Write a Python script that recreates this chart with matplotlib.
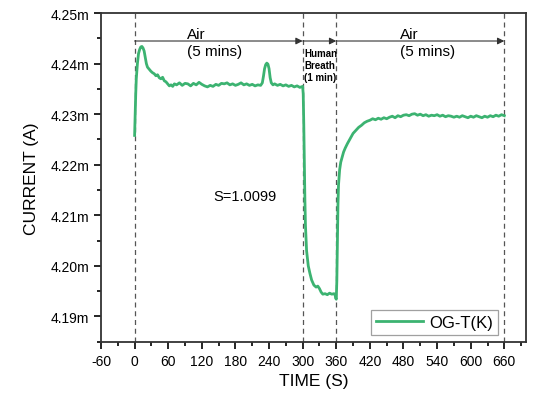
import matplotlib
matplotlib.use("Agg")
import matplotlib.pyplot as plt
from matplotlib.ticker import MultipleLocator, FuncFormatter

plt.rcParams['font.family'] = ['Liberation Sans', 'DejaVu Sans']
plt.rcParams['axes.unicode_minus'] = False

time_s = [0, 1, 2, 3, 5, 7, 9, 11, 13, 15, 17, 19, 21, 23, 26, 29, 32, 35, 38, 41, 44, 47, 50,
          53, 56, 59, 62, 65, 68, 71, 75, 80, 85, 90, 95, 100, 105, 110, 115, 120, 125, 130,
          135, 140, 145, 150, 155, 160, 165, 170, 175, 180, 185, 190, 195, 200, 205, 210, 215,
          220, 225, 228, 230, 232, 234, 236, 238, 240, 242, 244, 247, 250, 255, 260, 265, 270,
          275, 280, 285, 290, 295, 300,
          301, 302, 303, 304, 305, 307, 310, 313, 316, 320, 324, 327, 330, 333, 336, 340, 344,
          348, 352, 356, 358, 359, 360,
          361, 362, 363, 364, 366, 368, 370, 373, 376, 380, 385, 390, 395, 400, 405, 410, 415,
          420, 425, 430, 435, 440, 445, 450, 455, 460, 465, 470, 475, 480, 485, 490, 495, 500,
          505, 510, 515, 520, 525, 530, 535, 540, 545, 550, 555, 560, 565, 570, 575, 580, 585,
          590, 595, 600, 605, 610, 615, 620, 625, 630, 635, 640, 645, 650, 655, 660]

current_mA = [4.2258, 4.2300, 4.2340, 4.2370, 4.2400, 4.2420, 4.2428, 4.2433, 4.2434, 4.2431,
              4.2425, 4.2412, 4.2400, 4.2393, 4.2389, 4.2385, 4.2382, 4.2380, 4.2376, 4.2378,
              4.2372, 4.2370, 4.2373, 4.2366, 4.2364, 4.2360, 4.2356, 4.2358, 4.2355, 4.2360,
              4.2358, 4.2362, 4.2357, 4.2361, 4.2360, 4.2356, 4.2361, 4.2358, 4.2363, 4.2359,
              4.2356, 4.2354, 4.2357, 4.2355, 4.2359, 4.2357, 4.2361, 4.2360, 4.2362, 4.2358,
              4.2360, 4.2357, 4.2359, 4.2362, 4.2358, 4.2360, 4.2357, 4.2359, 4.2356, 4.2358,
              4.2357, 4.2362, 4.2375, 4.2390, 4.2398, 4.2401, 4.2399, 4.2390, 4.2372, 4.2362,
              4.2358, 4.2360, 4.2357, 4.2359, 4.2356, 4.2358, 4.2355, 4.2357, 4.2354, 4.2356,
              4.2353, 4.2355,
              4.2340, 4.2280, 4.2200, 4.2130, 4.2080, 4.2030, 4.2000, 4.1985, 4.1972, 4.1962,
              4.1958, 4.1960, 4.1955, 4.1948, 4.1944, 4.1945, 4.1943, 4.1946, 4.1944, 4.1945,
              4.1942, 4.1936, 4.1934,
              4.1970, 4.2050, 4.2120, 4.2160, 4.2190, 4.2205, 4.2213, 4.2225, 4.2233, 4.2242,
              4.2252, 4.2262, 4.2268, 4.2274, 4.2278, 4.2283, 4.2286, 4.2288, 4.2291, 4.2289,
              4.2292, 4.2290, 4.2293, 4.2291, 4.2294, 4.2296, 4.2293, 4.2297, 4.2295, 4.2298,
              4.2299, 4.2297, 4.2300, 4.2301, 4.2298, 4.2300, 4.2297, 4.2299, 4.2296, 4.2298,
              4.2297, 4.2299, 4.2296, 4.2298, 4.2295, 4.2297, 4.2296, 4.2294, 4.2296, 4.2294,
              4.2297, 4.2295, 4.2293, 4.2296, 4.2294, 4.2297, 4.2295, 4.2293, 4.2296, 4.2294,
              4.2297, 4.2295, 4.2298, 4.2296, 4.2299, 4.2297]

phase_bounds = [0, 300, 360, 660]
series_label = "OG-T(K)"
x_ticks = list(range(-60, 661, 60))

current_A = [v * 1e-3 for v in current_mA]

fig = plt.figure(figsize=(5.43, 4.02), dpi=100)
ax = fig.add_axes([0.186, 0.1475, 0.783, 0.8175])

ax.plot(time_s, current_A, color='#3cb371', lw=2.0, label=series_label)

for b in phase_bounds:
    ax.axvline(b, color='#555555', ls=(0, (4, 3)), lw=0.9, zorder=0)

ax.set_xlim(-60, 699)
ax.set_ylim(4.185e-3, 4.25e-3)
ax.set_xticks(x_ticks)
ax.xaxis.set_minor_locator(MultipleLocator(30))
ax.yaxis.set_major_locator(MultipleLocator(0.01e-3))
ax.yaxis.set_minor_locator(MultipleLocator(0.005e-3))
ax.yaxis.set_major_formatter(FuncFormatter(lambda v, p: f"{v*1e3:.2f}m"))

ax.tick_params(which='both', direction='out', top=False, right=False, labelsize=10, width=1.2)
ax.tick_params(which='major', length=5)
ax.tick_params(which='minor', length=3)
for s in ax.spines.values():
    s.set_linewidth(1.3)
    s.set_color('#333333')

ax.set_xlabel("TIME (S)", fontsize=12.5, labelpad=4)
ax.set_ylabel("CURRENT (A)", fontsize=12.5, labelpad=8)

# phase arrows
ya = 0.915
trans = ax.get_xaxis_transform()
for a, b in zip(phase_bounds[:-1], phase_bounds[1:]):
    ax.annotate("", xy=(b, ya), xytext=(a, ya), xycoords=trans, textcoords=trans,
                arrowprops=dict(arrowstyle='-|>', color='#333333', lw=0.8,
                                mutation_scale=10, shrinkA=0, shrinkB=0))

for x0 in (94, 474):
    ax.text(x0, 0.936, "Air", transform=trans, fontsize=11, ha='left', va='center')
    ax.text(x0, 0.884, "(5 mins)", transform=trans, fontsize=11, ha='left', va='center')
ax.text(302.5, 0.895, "Human\nBreath\n(1 min)", transform=trans, fontsize=7,
        fontweight='bold', ha='left', va='top', linespacing=1.25)
ax.text(197, 4.2138e-3, "S=1.0099", fontsize=10.5, ha='center', va='center')

leg = ax.legend(loc='lower right', bbox_to_anchor=(0.934, 0.02), fontsize=12,
                frameon=True, fancybox=False, handlelength=2.8, borderpad=0.3,
                handletextpad=0.4, borderaxespad=0)
leg.get_frame().set_edgecolor('#888888')
leg.get_frame().set_linewidth(0.9)

fig.savefig("out.png", dpi=100)
